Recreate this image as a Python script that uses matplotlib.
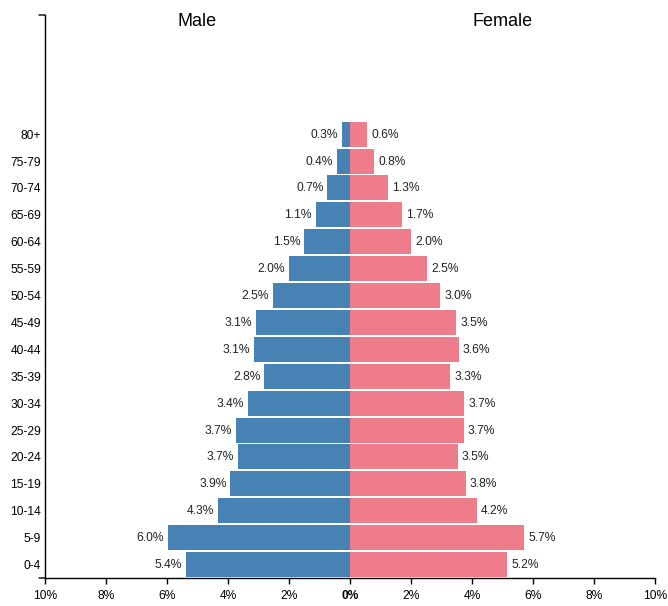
import numpy as np
import matplotlib
matplotlib.use("Agg")
import matplotlib.pyplot as plt

plt.rcParams['font.family'] = ['Liberation Sans', 'DejaVu Sans']

# age groups, bottom to top
ages = ['0-4', '5-9', '10-14', '15-19', '20-24', '25-29', '30-34', '35-39',
        '40-44', '45-49', '50-54', '55-59', '60-64', '65-69', '70-74', '75-79', '80+']
male = [5.38, 5.97, 4.33, 3.92, 3.66, 3.74, 3.36, 2.81,
        3.14, 3.08, 2.53, 2.01, 1.50, 1.12, 0.74, 0.44, 0.26]
female = [5.16, 5.72, 4.16, 3.79, 3.54, 3.73, 3.74, 3.29,
          3.57, 3.49, 2.96, 2.53, 2.01, 1.70, 1.26, 0.80, 0.57]
xticks = [-10, -8, -6, -4, -2, 0, 2, 4, 6, 8, 10]

PX = 72 / 100.0  # one pixel in points
blue = '#4682b4'
pink = '#ef7c8a'

fig = plt.figure(figsize=(6.68, 6.06), dpi=100)
ax = fig.add_axes([45 / 668, 28 / 606, 610 / 668, 563 / 606])

y = np.arange(len(ages))
male = np.array(male)
female = np.array(female)

ax.barh(y, -male, height=0.93, color=blue, linewidth=0)
ax.barh(y, female, height=0.93, color=pink, linewidth=0)

# value labels
for yi, m, f in zip(y, male, female):
    ax.annotate(f'{m:.1f}%', (-m, yi), xytext=(-4 * PX, -0.5 * PX),
                textcoords='offset points', ha='right', va='center',
                fontsize=12 * PX, color='#222222')
    ax.annotate(f'{f:.1f}%', (f, yi), xytext=(4 * PX, -0.5 * PX),
                textcoords='offset points', ha='left', va='center',
                fontsize=12 * PX, color='#222222')

ax.set_xlim(-10, 10)
ax.set_ylim(-0.5, 20.43)

ax.set_xticks(xticks)
ax.set_xticklabels([f'{abs(t)}%' for t in xticks])
for lab, t in zip(ax.get_xticklabels(), xticks):
    if t == 0:
        lab.set_fontweight('bold')
ax.set_yticks(y)
ax.set_yticklabels(ages)

ax.tick_params(axis='x', length=6 * PX, width=1.0, pad=6 * PX,
               labelsize=12 * PX, colors='black')
ax.tick_params(axis='y', length=0, pad=4 * PX, labelsize=12 * PX)

for s in ['top', 'right']:
    ax.spines[s].set_visible(False)
for s in ['left', 'bottom']:
    ax.spines[s].set_linewidth(1.0)
    ax.spines[s].set_color('black')

# outer ticks of the left axis (top and bottom)
for yy in [0, 1]:
    ax.annotate('', xy=(0, yy), xycoords='axes fraction',
                xytext=(-6 * PX, 0), textcoords='offset points',
                arrowprops=dict(arrowstyle='-', color='black', lw=1.0,
                                shrinkA=0, shrinkB=0))

ax.text(-5, 0.988, 'Male', transform=ax.get_xaxis_transform(),
        ha='center', va='center', fontsize=18 * PX)
ax.text(5, 0.988, 'Female', transform=ax.get_xaxis_transform(),
        ha='center', va='center', fontsize=18 * PX)

fig.savefig('out.png', dpi=100)
